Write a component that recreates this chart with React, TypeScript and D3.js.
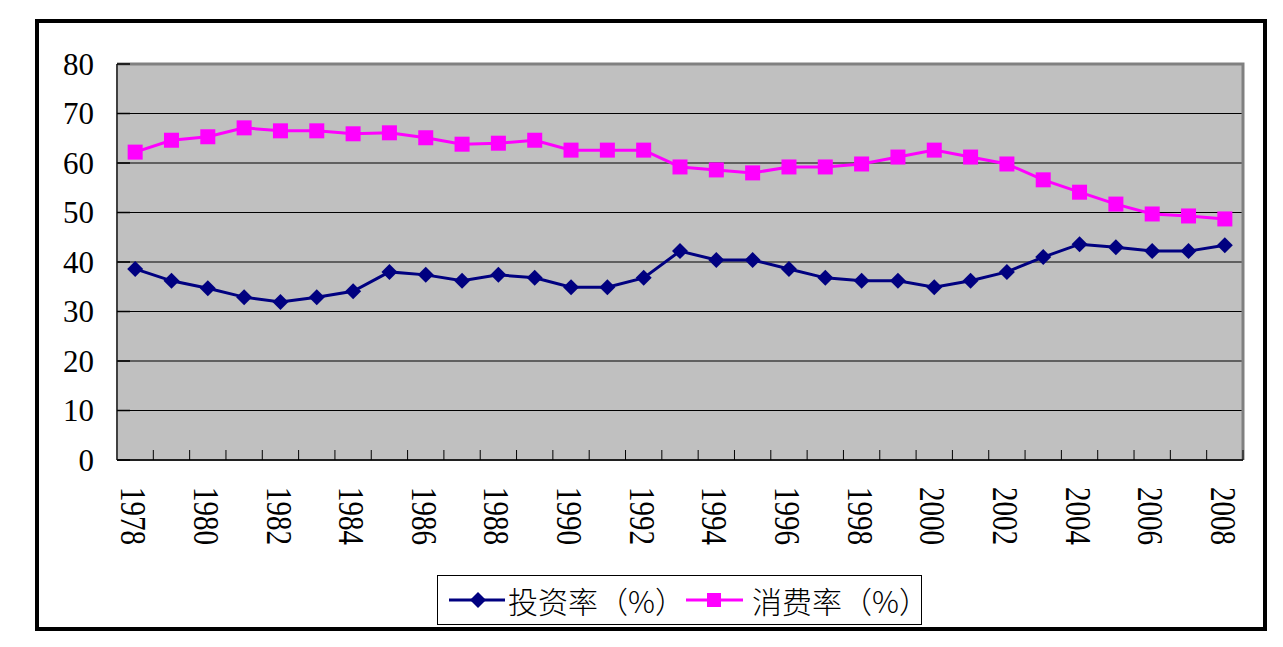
import React from "react";
import * as d3 from "d3";

const years = d3.range(1978, 2009).map(String);
const investment = [38.6, 36.2, 34.7, 32.9, 31.9, 32.9, 34.1, 38.0, 37.4, 36.2, 37.4, 36.8, 34.9, 34.9, 36.8, 42.2, 40.4, 40.4, 38.6, 36.8, 36.2, 36.2, 34.9, 36.2, 38.0, 41.0, 43.6, 43.0, 42.2, 42.2, 43.4];
const consumption = [62.2, 64.6, 65.3, 67.1, 66.5, 66.5, 65.9, 66.1, 65.1, 63.8, 64.0, 64.6, 62.6, 62.6, 62.6, 59.2, 58.6, 58.0, 59.2, 59.2, 59.8, 61.2, 62.6, 61.2, 59.8, 56.6, 54.1, 51.7, 49.7, 49.3, 48.7];
const yTicks = [0, 10, 20, 30, 40, 50, 60, 70, 80];
const seriesNames = ["投资率（%）", "消费率（%）"];

const W = 1283, H = 647;
const plot = { left: 117, top: 64, right: 1243, bottom: 460 };
const NAVY = "#000080";
const MAGENTA = "#ff00ff";
const serif = "'Liberation Serif', 'DejaVu Serif', serif";
const cjk = "'Noto Sans CJK SC', sans-serif";

export default function App() {
  const x = d3.scaleBand<string>().domain(years).range([plot.left, plot.right]).paddingInner(0).paddingOuter(0);
  const y = d3.scaleLinear().domain([0, 80]).range([plot.bottom, plot.top]);
  const cx = (yr: string) => (x(yr) as number) + x.bandwidth() / 2;
  const line = d3.line<number>().x((_, i) => cx(years[i])).y((d) => y(d));

  const diamond = (px: number, py: number, r: number) =>
    `M${px},${py - r}L${px + r},${py}L${px},${py + r}L${px - r},${py}Z`;

  return (
    <svg width={W} height={H} style={{ position: "absolute", left: 0, top: 0 }}>
      <rect x={0} y={0} width={W} height={H} fill="#fff" />
      <rect x={37} y={21} width={1228} height={608} fill="#fff" stroke="#000" strokeWidth={4} />
      {/* plot area */}
      <rect x={plot.left} y={plot.top} width={plot.right - plot.left} height={plot.bottom - plot.top} fill="#c0c0c0" />
      {yTicks.filter((t) => t > 0 && t < 80).map((t) => (
        <line key={t} x1={plot.left} x2={plot.right} y1={y(t)} y2={y(t)} stroke="#000" strokeWidth={1} />
      ))}
      {/* plot border top/right gray */}
      <path d={`M${plot.left},${plot.top}H${plot.right}V${plot.bottom}`} fill="none" stroke="#808080" strokeWidth={3} />
      {/* axes */}
      <line x1={plot.left} x2={plot.left} y1={plot.top} y2={plot.bottom} stroke="#404040" strokeWidth={2} />
      <line x1={plot.left} x2={plot.right} y1={plot.bottom} y2={plot.bottom} stroke="#202020" strokeWidth={2} />
      {yTicks.map((t) => (
        <g key={t}>
          <line x1={plot.left} x2={plot.left + 13} y1={y(t)} y2={y(t)} stroke="#000" strokeWidth={1.5} />
          <text x={94} y={y(t)} textAnchor="end" dominantBaseline="central" fontFamily={serif} fontSize={31} fill="#000">
            {t}
          </text>
        </g>
      ))}
      {years.map((yr) => (
        <line key={yr} x1={(x(yr) as number) + x.bandwidth()} x2={(x(yr) as number) + x.bandwidth()} y1={plot.bottom} y2={plot.bottom - 10} stroke="#000" strokeWidth={1} />
      ))}
      {years.filter((_, i) => i % 2 === 0).map((yr) => (
        <text key={yr} transform={`translate(${cx(yr) - 2},487) rotate(90) scale(1,1.2)`} textAnchor="start" dominantBaseline="central" fontFamily={serif} fontSize={29} fill="#000">
          {yr}
        </text>
      ))}
      {/* series */}
      <path d={line(investment) as string} fill="none" stroke={NAVY} strokeWidth={3} />
      {investment.map((v, i) => (
        <path key={i} d={diamond(cx(years[i]), y(v), 8)} fill={NAVY} />
      ))}
      <path d={line(consumption) as string} fill="none" stroke={MAGENTA} strokeWidth={3} />
      {consumption.map((v, i) => (
        <rect key={i} x={cx(years[i]) - 7.5} y={y(v) - 7.5} width={15} height={15} fill={MAGENTA} />
      ))}
      {/* legend */}
      <rect x={437.5} y={575.5} width={484} height={49} fill="#fff" stroke="#000" strokeWidth={1} />
      <line x1={449} x2={505} y1={600} y2={600} stroke={NAVY} strokeWidth={3} />
      <path d={diamond(478, 600, 8)} fill={NAVY} />
      <text x={508} y={600} dominantBaseline="central" fontFamily={cjk} fontWeight={300} fontSize={30} fill="#000">{seriesNames[0]}</text>
      <line x1={686} x2={743} y1={600} y2={600} stroke={MAGENTA} strokeWidth={3} />
      <rect x={707} y={593} width={14} height={14} fill={MAGENTA} />
      <text x={752} y={600} dominantBaseline="central" fontFamily={cjk} fontWeight={300} fontSize={30} fill="#000">{seriesNames[1]}</text>
    </svg>
  );
}
